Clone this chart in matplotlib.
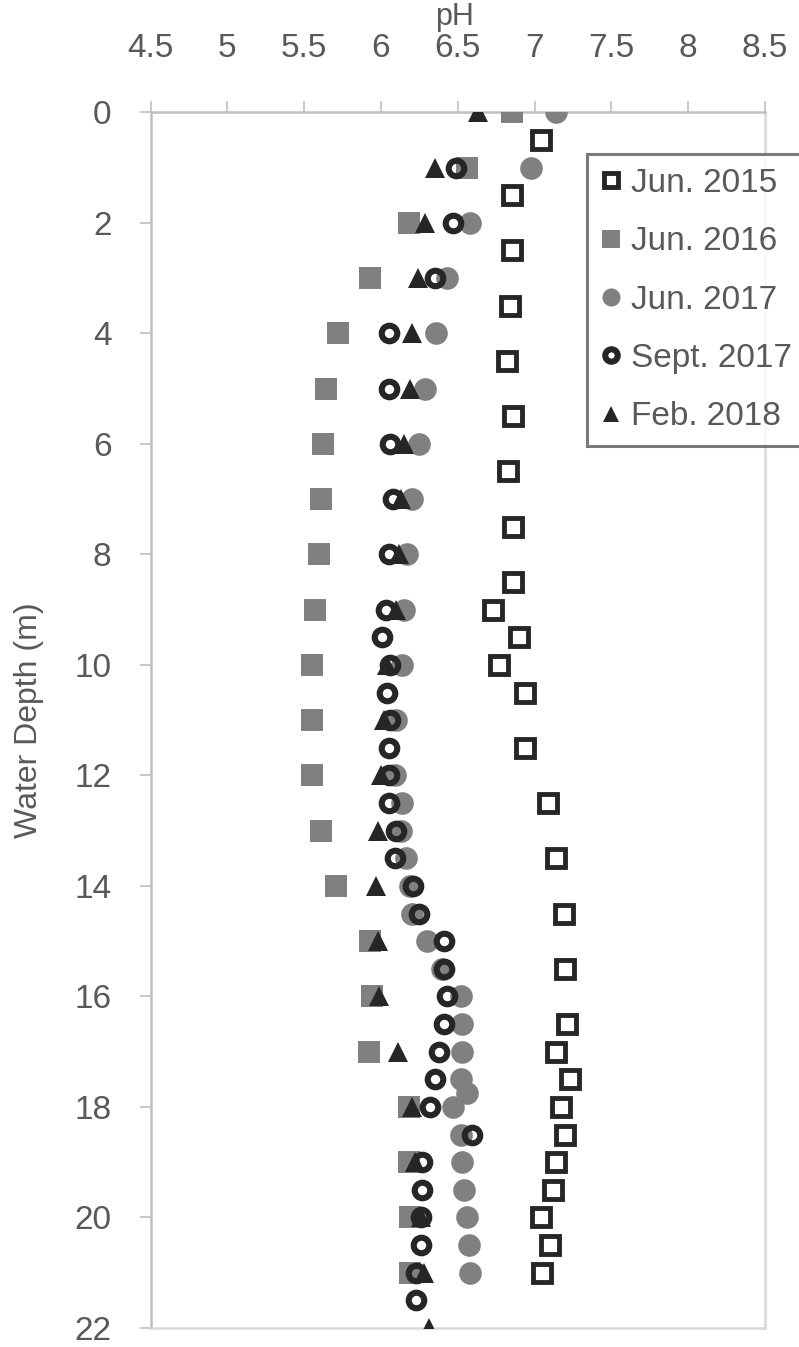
import matplotlib
matplotlib.use("Agg")
import matplotlib.pyplot as plt

plt.rcParams['font.family'] = ['Liberation Sans', 'DejaVu Sans']

# pH profiles by water depth (m)
depth_2015 = [0.5, 1.5, 2.5, 3.5, 4.5, 5.5, 6.5, 7.5, 8.5, 9, 9.5, 10, 10.5, 11.5,
              12.5, 13.5, 14.5, 15.5, 16.5, 17, 17.5, 18, 18.5, 19, 19.5, 20, 20.5, 21]
ph_2015 = [7.04, 6.85, 6.85, 6.84, 6.82, 6.86, 6.83, 6.86, 6.86, 6.73, 6.90, 6.77, 6.94, 6.94,
           7.09, 7.14, 7.19, 7.20, 7.21, 7.14, 7.23, 7.17, 7.20, 7.14, 7.12, 7.04, 7.10, 7.05]

depth_2016 = [0, 1, 2, 3, 4, 5, 6, 7, 8, 9, 10, 11, 12, 13, 14, 15, 16, 17, 18, 19, 20, 21]
ph_2016 = [6.85, 6.56, 6.18, 5.93, 5.72, 5.64, 5.62, 5.61, 5.60, 5.57, 5.55, 5.55, 5.55,
           5.61, 5.71, 5.93, 5.94, 5.92, 6.18, 6.18, 6.19, 6.19]

depth_jun2017 = [0, 1, 2, 3, 4, 5, 6, 7, 8, 9, 10, 11, 12, 12.5, 13, 13.5, 14, 14.5, 15,
                 15.5, 16, 16.5, 17, 17.5, 17.75, 18, 18.5, 19, 19.5, 20, 20.5, 21]
ph_jun2017 = [7.14, 6.98, 6.58, 6.43, 6.36, 6.29, 6.25, 6.20, 6.17, 6.15, 6.14, 6.10, 6.09,
              6.14, 6.13, 6.16, 6.19, 6.20, 6.30, 6.40, 6.52, 6.53, 6.53, 6.52, 6.56, 6.47,
              6.52, 6.53, 6.54, 6.56, 6.57, 6.58]

depth_sep2017 = [1, 2, 3, 4, 5, 6, 7, 8, 9, 9.5, 10, 10.5, 11, 11.5, 12, 12.5, 13, 13.5, 14,
                 14.5, 15, 15.5, 16, 16.5, 17, 17.5, 18, 18.5, 19, 19.5, 20, 20.5, 21, 21.5]
ph_sep2017 = [6.49, 6.47, 6.35, 6.05, 6.05, 6.06, 6.08, 6.05, 6.03, 6.01, 6.06, 6.04, 6.06,
              6.05, 6.05, 6.05, 6.10, 6.09, 6.21, 6.25, 6.41, 6.41, 6.43, 6.41, 6.38, 6.35,
              6.32, 6.59, 6.27, 6.27, 6.26, 6.26, 6.23, 6.23]

depth_2018 = [0, 1, 2, 3, 4, 5, 6, 7, 8, 9, 10, 11, 12, 13, 14, 15, 16, 17, 18, 19, 20, 21, 22]
ph_2018 = [6.63, 6.35, 6.29, 6.24, 6.20, 6.19, 6.15, 6.13, 6.12, 6.10, 6.04, 6.02, 6.00,
           5.98, 5.97, 5.98, 5.99, 6.11, 6.20, 6.22, 6.26, 6.28, 6.31]

x_ticks = [4.5, 5, 5.5, 6, 6.5, 7, 7.5, 8, 8.5]
y_ticks = list(range(0, 23, 2))

dark = '#262626'
gray = '#808080'
text_col = '#595959'
axis_col = '#bfbfbf'

fig = plt.figure(figsize=(7.99, 13.47), dpi=100)
ax = fig.add_axes([150.5 / 799, 19 / 1347, 614.5 / 799, 1215.7 / 1347])

ax.plot(ph_2015, depth_2015, 's', ms=12.3, mfc='none', mec=dark, mew=3.5,
        label='Jun. 2015', zorder=3)
ax.plot(ph_2016, depth_2016, 's', ms=16, mfc=gray, mec=gray, mew=0,
        label='Jun. 2016', zorder=4)
ax.plot(ph_jun2017, depth_jun2017, 'o', ms=16.3, mfc=gray, mec=gray, mew=0,
        label='Jun. 2017', zorder=5)
ax.plot(ph_sep2017, depth_sep2017, 'o', ms=11.2, mfc='none', mec=dark, mew=4.4,
        label='Sept. 2017', zorder=6)
ax.plot(ph_2018, depth_2018, '^', ms=14.5, mfc=dark, mec=dark, mew=0,
        label='Feb. 2018', zorder=7)

ax.set_xlim(4.5, 8.5)
ax.set_ylim(22, 0)
ax.set_xticks(x_ticks)
ax.set_xticklabels([f'{v:g}' for v in x_ticks])
ax.set_yticks(y_ticks)
ax.xaxis.tick_top()

ax.tick_params(axis='both', colors=axis_col, labelcolor=text_col, labelsize=24,
               length=8, width=1.2, direction='out')
ax.tick_params(axis='x', pad=27)
ax.tick_params(axis='y', pad=20)

for side in ['top', 'left']:
    ax.spines[side].set_color(axis_col)
    ax.spines[side].set_linewidth(1.8)
for side in ['bottom', 'right']:
    ax.spines[side].set_color('#d9d9d9')
    ax.spines[side].set_linewidth(1.8)

# axis title sits above the top tick labels
fig.text(455 / 799, 1 - 17 / 1347, 'pH', fontsize=22, color=text_col,
         ha='center', va='center')
ax.set_ylabel('Water Depth (m)', fontsize=23, color=text_col, labelpad=22)

leg = ax.legend(loc='upper left', bbox_to_anchor=(587 / 799, 1 - 154 / 1347),
                bbox_transform=fig.transFigure, borderaxespad=0, fontsize=24,
                frameon=True, fancybox=False, markerscale=0.8, handlelength=0.6,
                handletextpad=0.3, labelspacing=0.82, borderpad=0.42,
                labelcolor=text_col)
leg.get_frame().set_edgecolor('#595959')
leg.get_frame().set_linewidth(2.2)
leg.set_zorder(10)

fig.savefig('out.png', dpi=100)
